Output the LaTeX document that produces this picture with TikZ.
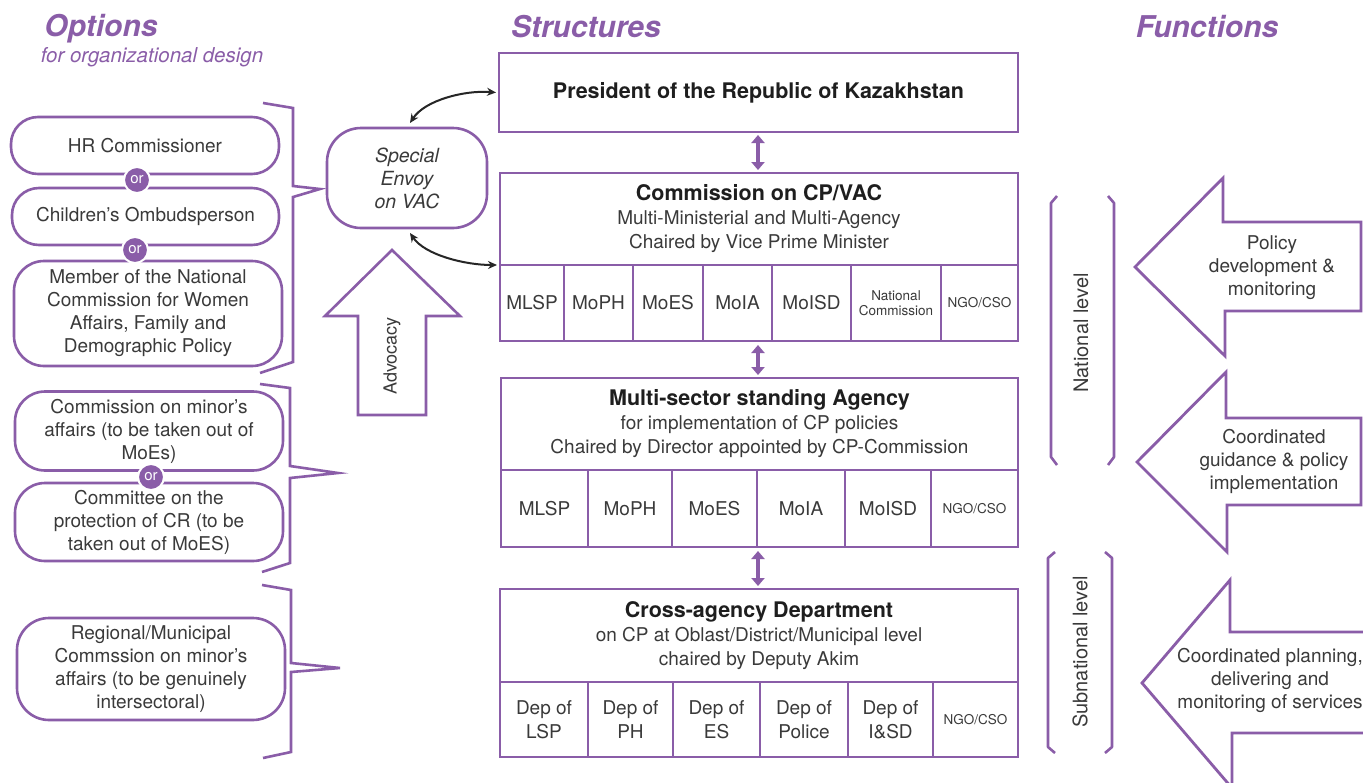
\documentclass[tikz,border=0pt]{standalone}
\usepackage{fontspec}
\setmainfont{TeX Gyre Heros}
\usetikzlibrary{arrows.meta,calc}
\definecolor{purp}{HTML}{8A5DA8}
\definecolor{tgray}{HTML}{3A3A3A}
\definecolor{tdark}{HTML}{1E1E1E}
\newcommand\myttl{\fontsize{21.5}{24}\selectfont\bfseries\color{tdark}}
\tikzset{
  base/.style={font=\fontsize{19}{23}\selectfont, text=tgray, align=center, inner sep=0pt, outer sep=0pt},
  sbase/.style={font=\fontsize{19}{24}\selectfont, text=tgray, align=center, inner sep=0pt, outer sep=0pt},
  optbox/.style={base, draw=purp, line width=2.6pt, rounded corners=#1},
  optbox/.default=27pt,
  cell/.style={sbase, draw=purp, line width=2.6pt},
  small/.style={font=\fontsize{13.5}{15}\selectfont},
  ornode/.style={circle, fill=purp, draw=white, line width=2pt, minimum size=26pt, inner sep=0pt, text=white, font=\fontsize{15}{15}\selectfont},
  heading/.style={text=purp, font=\fontsize{30}{32}\selectfont\bfseries\itshape, inner sep=0pt},
  bracepath/.style={draw=purp, line width=2.6pt, line join=miter},
  bigarrow/.style={draw=purp, line width=2.8pt, fill=white, line join=miter},
  darr/.style={{Stealth[length=9pt,width=8pt]}-{Stealth[length=9pt,width=8pt]}, line width=2pt, black!85},
  parr/.style={{Triangle[length=8pt,width=13pt]}-{Triangle[length=8pt,width=13pt]}, line width=4pt, purp}
}
\begin{document}
\begin{tikzpicture}[x=1pt,y=-1pt]
\useasboundingbox[fill=white] (0,0) rectangle (1363,782);

% headings
\node[heading] (hopt) at (101,29) {Options};
\node[text=purp, font=\fontsize{20.5}{22}\selectfont\itshape, inner sep=0pt] (hopt2) at (152,57) {for organizational design};
\node[heading] (hstr) at (586,27) {Structures};
\node[heading] (hfun) at (1207,27) {Functions};

% left option boxes
\node[optbox, minimum width=268pt, minimum height=57pt] (hr) at (145,145.5) {HR Commissioner};
\node[optbox, minimum width=267pt, minimum height=57pt] (ch) at (145.5,216.5) {Children’s Ombudsperson};
\node[optbox=30pt, minimum width=268pt, minimum height=105pt] (mem) at (148,313.5) {Member of the National\\Commission for Women\\Affairs, Family and\\Demographic Policy};
\node[ornode] (or1) at (137,180) {or};
\node[ornode] (or2) at (135,250) {or};

\node[optbox=30pt, minimum width=268pt, minimum height=79pt] (cm) at (149,431) {Commission on minor’s\\affairs (to be taken out of\\MoEs)};
\node[optbox=30pt, minimum width=268pt, minimum height=78pt] (cp) at (149,522) {Committee on the\\protection of CR (to be\\taken out of MoES)};
\node[ornode] (or3) at (151,477) {or};

\node[optbox=32pt, minimum width=268pt, minimum height=102pt] (reg) at (151,669) {Regional/Municipal\\Commssion on minor’s\\affairs (to be genuinely\\intersectoral)};

% braces
\draw[bracepath] (263,103) -- (293,108) -- (293,186) -- (320,189) -- (293,197) -- (293,362) -- (260,373);
\draw[bracepath] (260,384) -- (290,388) -- (290,466) -- (338,473) -- (290,478) -- (290,563) -- (262,572);
\draw[bracepath] (262,585) -- (291,590) -- (291,663) -- (340,668) -- (291,672) -- (291,752) -- (263,758);

% special envoy
\node[optbox=34pt, minimum width=160pt, minimum height=100pt, font=\fontsize{19.5}{23}\selectfont\itshape] (envoy) at (407,178) {Special\\Envoy\\on VAC};

% advocacy arrow
\draw[bigarrow, line width=2.6pt] (392,250) -- (460,316) -- (426,316) -- (426,415) -- (358,415) -- (358,316) -- (325,316) -- cycle;
\node[base, rotate=90, font=\fontsize{18}{22}\selectfont] (adv) at (392,356) {Advocacy};

% structures
\node[cell, minimum width=519pt, minimum height=79pt, font=\fontsize{21.5}{24}\selectfont\bfseries, text=tdark] (pres) at (758.5,92.5) {President of the Republic of Kazakhstan};

\node[cell, minimum width=518pt, minimum height=92pt] (comm) at (759,219) {{\myttl Commission on CP/VAC}\\Multi-Ministerial and Multi-Agency\\Chaired by Vice Prime Minister};
\node[cell, minimum width=64pt, minimum height=76pt] (c1) at (532,303) {MLSP};
\node[cell, minimum width=69pt, minimum height=76pt] (c2) at (598.5,303) {MoPH};
\node[cell, minimum width=70pt, minimum height=76pt] (c3) at (668,303) {MoES};
\node[cell, minimum width=69pt, minimum height=76pt] (c4) at (737.5,303) {MoIA};
\node[cell, minimum width=79pt, minimum height=76pt] (c5) at (811.5,303) {MoISD};
\node[cell, minimum width=90pt, minimum height=76pt, small] (c6) at (896,303) {National\\Commission};
\node[cell, minimum width=77pt, minimum height=76pt, small] (c7) at (979.5,303) {NGO/CSO};

\node[cell, minimum width=517pt, minimum height=92pt] (ag) at (759.5,424) {{\myttl Multi-sector standing Agency}\\for implementation of CP policies\\Chaired by Director appointed by CP-Commission};
\node[cell, minimum width=87pt, minimum height=77pt] (a1) at (544.5,508.5) {MLSP};
\node[cell, minimum width=84pt, minimum height=77pt] (a2) at (630,508.5) {MoPH};
\node[cell, minimum width=85pt, minimum height=77pt] (a3) at (714.5,508.5) {MoES};
\node[cell, minimum width=88pt, minimum height=77pt] (a4) at (801,508.5) {MoIA};
\node[cell, minimum width=86pt, minimum height=77pt] (a5) at (888,508.5) {MoISD};
\node[cell, minimum width=87pt, minimum height=77pt, small] (a6) at (974.5,508.5) {NGO/CSO};

\node[cell, minimum width=518pt, minimum height=93pt] (dep) at (759,635.5) {{\myttl Cross-agency Department}\\on CP at Oblast/District/Municipal level\\chaired by Deputy Akim};
\node[cell, minimum width=88pt, minimum height=75pt] (d1) at (544,719.5) {Dep of\\LSP};
\node[cell, minimum width=85pt, minimum height=75pt] (d2) at (630.5,719.5) {Dep of\\PH};
\node[cell, minimum width=87pt, minimum height=75pt] (d3) at (716.5,719.5) {Dep of\\ES};
\node[cell, minimum width=88pt, minimum height=75pt] (d4) at (804,719.5) {Dep of\\Police};
\node[cell, minimum width=85pt, minimum height=75pt] (d5) at (890.5,719.5) {Dep of\\I\&SD};
\node[cell, minimum width=85pt, minimum height=75pt, small] (d6) at (975.5,719.5) {NGO/CSO};

% vertical purple arrows
\coordinate (pb) at (758,132);
\coordinate (cb) at (758,341);
\coordinate (ab) at (758,547);
\draw[parr] ([yshift=-3pt]pb) -- ([yshift=3pt]comm.north -| pb);
\draw[parr] ([yshift=-4pt]cb) -- ([yshift=3pt]ag.north -| cb);
\draw[parr] ([yshift=-4pt]ab) -- ([yshift=3pt]dep.north -| ab);

% black curved arrows
\draw[darr] ($(envoy.north)+(3,-5)$) .. controls (425,100) and (465,90) .. ($(pres.west)+(-3,0)$);
\draw[darr] ($(envoy.south)+(3,5)$) .. controls (425,255) and (465,265) .. ($(comm.south west)+(-3,0)$);

% level brackets
\draw[bracepath, line join=round] (1057,196) -- (1051,203) -- (1051,457) -- (1057,465);
\draw[bracepath, line join=round] (1108,196) -- (1114,203) -- (1114,457) -- (1108,465);
\node[base, rotate=90, font=\fontsize{20}{22}\selectfont] (nat) at (1081,333) {National level};
\draw[bracepath, line join=round] (1055,552) -- (1048,558) -- (1048,747) -- (1055,753);
\draw[bracepath, line join=round] (1105,552) -- (1112,558) -- (1112,747) -- (1105,753);
\node[base, rotate=90, font=\fontsize{20}{22}\selectfont] (sub) at (1080,652) {Subnational level};

% function arrows
\draw[bigarrow] (1135,267) -- (1223,178) -- (1223,222) -- (1361,222) -- (1361,311) -- (1225,311) -- (1225,356) -- cycle;
\node[base] (f1) at (1272,268) {Policy\\development \&\\monitoring};
\draw[bigarrow] (1137,462) -- (1226,372) -- (1226,418) -- (1361,418) -- (1361,505) -- (1227,505) -- (1227,552) -- cycle;
\node[base] (f2) at (1274,461) {Coordinated\\guidance \& policy\\implementation};
\draw[bigarrow] (1142,683) -- (1230,580) -- (1230,632) -- (1370,632) -- (1370,733) -- (1232,733) -- (1232,788) -- cycle;
\node[base] (f3) at (1270,680) {Coordinated planning,\\delivering and\\monitoring of services};
\end{tikzpicture}
\end{document}
